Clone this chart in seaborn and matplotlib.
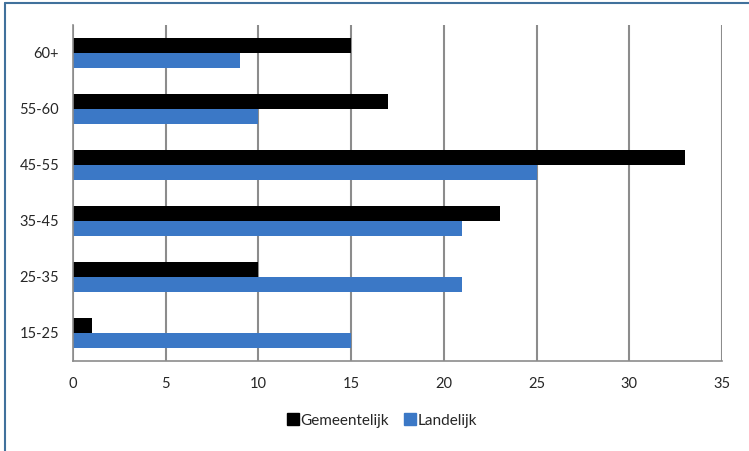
import numpy as np
import pandas as pd
import seaborn as sns
from matplotlib import pyplot as plt
from matplotlib.lines import Line2D

# data
leeftijd = ['60+', '55-60', '45-55', '35-45', '25-35', '15-25']
gemeentelijk = [15, 17, 33, 23, 10, 1]
landelijk = [9, 10, 25, 21, 21, 15]
reeksen = ['Gemeentelijk', 'Landelijk']
kleuren = ['#000000', '#3b78c6']

df = pd.DataFrame({
    'leeftijd': leeftijd * 2,
    'waarde': gemeentelijk + landelijk,
    'reeks': [reeksen[0]] * len(leeftijd) + [reeksen[1]] * len(leeftijd),
})

sns.set_style('white')
plt.rcParams['font.family'] = ['Lato', 'DejaVu Sans']

fig = plt.figure(figsize=(7.49, 4.51), dpi=100)
ax = fig.add_axes([0.0975, 0.2, 0.8665, 0.745])

sns.barplot(data=df, x='waarde', y='leeftijd', hue='reeks', order=leeftijd,
            hue_order=reeksen, palette=kleuren, orient='h', width=0.54,
            saturation=1, linewidth=0, ax=ax, legend=False)

ax.set_xlim(0, 35)
ax.set_xticks(np.arange(0, 36, 5))
ax.set_ylim(len(leeftijd) - 0.5, -0.5)
ax.set_xlabel('')
ax.set_ylabel('')

# vertical grid
ax.set_axisbelow(True)
ax.xaxis.grid(True, color='#8c8c8c', linewidth=1.5)
ax.yaxis.grid(False)

for s in ['top', 'right']:
    ax.spines[s].set_visible(False)
for s in ['left', 'bottom']:
    ax.spines[s].set_color('#8c8c8c')
    ax.spines[s].set_linewidth(1.2)

# ticks at category boundaries on the y axis
ax.set_yticks(np.arange(len(leeftijd)))
ax.set_yticks(np.arange(-0.5, len(leeftijd)), minor=True)
ax.tick_params(axis='y', which='major', length=0, pad=10, labelsize=10.5)
ax.tick_params(axis='y', which='minor', length=4, color='#8c8c8c', width=1.2)
ax.tick_params(axis='x', which='major', length=4, color='#8c8c8c', width=1.2,
               pad=8, labelsize=10.5)

handles = [Line2D([], [], marker='s', linestyle='', markersize=8, color=c)
           for c in kleuren]
fig.legend(handles, reeksen, loc='center', bbox_to_anchor=(0.51, 0.067),
           ncol=2, frameon=False, fontsize=11, handletextpad=0.1,
           columnspacing=1.0, handlelength=0.8)

# frame of the chart area
fig.add_artist(Line2D([0.007, 0.007], [0, 0.993], color='#41719c',
                      linewidth=1.5, transform=fig.transFigure))
fig.add_artist(Line2D([0.007, 1.0], [0.993, 0.993], color='#41719c',
                      linewidth=1.5, transform=fig.transFigure))

fig.savefig('out.png', dpi=100)
